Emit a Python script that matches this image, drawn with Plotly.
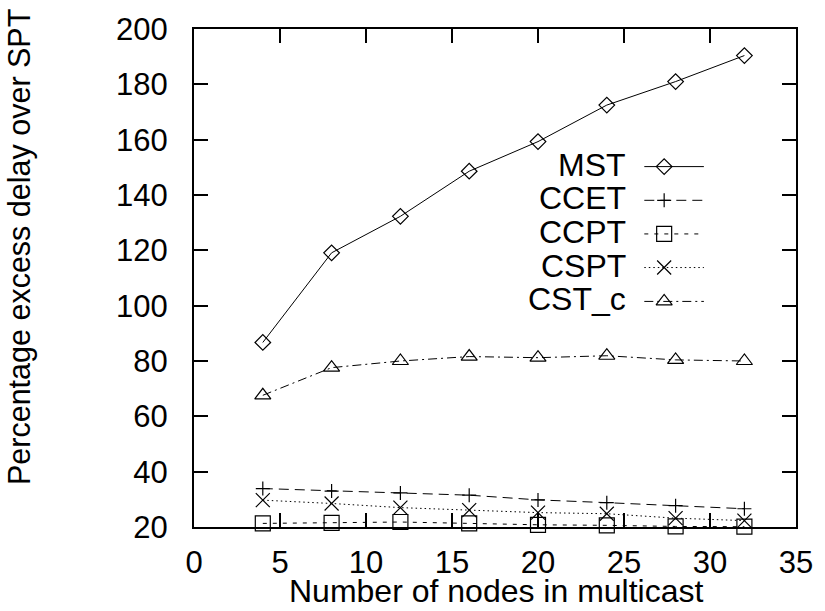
import plotly.graph_objects as go

# ---- data ----
nodes = [4, 8, 12, 16, 20, 24, 28, 32]
mst = [86.7, 119.1, 132.3, 148.6, 159.3, 172.5, 181.0, 190.4]
ccet = [33.9, 33.0, 32.3, 31.5, 29.8, 28.8, 27.7, 26.6]
ccpt = [21.3, 21.5, 21.8, 21.3, 20.8, 20.6, 20.2, 20.1]
cspt = [29.7, 28.5, 27.0, 26.1, 25.2, 24.8, 23.2, 22.3]
cst_c = [67.6, 77.6, 80.0, 81.6, 81.2, 81.9, 80.4, 80.0]

series_names = ["MST", "CCET", "CCPT", "CSPT", "CST_c"]
series_values = [mst, ccet, ccpt, cspt, cst_c]
x_ticks = [0, 5, 10, 15, 20, 25, 30, 35]
y_ticks = [20, 40, 60, 80, 100, 120, 140, 160, 180, 200]

# ---- styles ----
styles = [
    dict(dash="solid", symbol="diamond-open", size=12),
    dict(dash="10px,6px", symbol="cross-thin-open", size=10),
    dict(dash="4px,6px", symbol="square-open", size=15),
    dict(dash="1.5px,3px", symbol="x-thin-open", size=14),
    dict(dash="9px,4px,2px,4px", symbol="triangle-up-open", size=14),
]

FONT = "Liberation Sans, Arial, Helvetica, sans-serif"
FS_TICK = 31
FS_LEG = 32

fig = go.Figure()

for name, vals, st in zip(series_names, series_values, styles):
    fig.add_trace(go.Scatter(
        x=nodes, y=vals, name=name, mode="lines+markers",
        line=dict(color="black", width=1, dash=st["dash"]),
        marker=dict(symbol=st["symbol"], size=st["size"], color="black",
                    line=dict(color="black", width=1.2)),
        cliponaxis=False, showlegend=False,
    ))

# ---- manual gnuplot-like legend (on an overlay 0..1 axis) ----
leg_y = [0.7237, 0.656, 0.5885, 0.521, 0.453]
annotations = []
for name, st, yy in zip(series_names, styles, leg_y):
    fig.add_trace(go.Scatter(
        x=[0.748, 0.847], y=[yy, yy], mode="lines",
        line=dict(color="black", width=1, dash=st["dash"]),
        xaxis="x2", yaxis="y2", showlegend=False, hoverinfo="skip",
    ))
    fig.add_trace(go.Scatter(
        x=[0.781], y=[yy], mode="markers",
        marker=dict(symbol=st["symbol"], size=st["size"], color="black",
                    line=dict(color="black", width=1.2)),
        xaxis="x2", yaxis="y2", showlegend=False, hoverinfo="skip",
    ))
    annotations.append(dict(
        x=0.7185, y=yy + 0.004, xref="x2", yref="y2", text=name, showarrow=False,
        xanchor="right", yanchor="middle", borderpad=0,
        font=dict(family=FONT, size=FS_LEG, color="black"),
    ))

annotations.append(dict(
    x=-0.29, y=0.563, xref="paper", yref="paper",
    text="Percentage excess delay over SPT", showarrow=False, textangle=-90,
    xanchor="center", yanchor="middle",
    font=dict(family=FONT, size=30.5, color="black"),
))
annotations.append(dict(
    x=0.503, y=-0.128, xref="paper", yref="paper",
    text="Number of nodes in multicast", showarrow=False,
    xanchor="center", yanchor="middle", borderpad=0,
    font=dict(family=FONT, size=32, color="black"),
))

axis_common = dict(
    showline=True, linecolor="black", linewidth=2, mirror="ticks",
    ticks="inside", ticklen=14, tickwidth=1.5, tickcolor="black",
    showgrid=False, zeroline=False,
    tickfont=dict(family=FONT, size=FS_TICK, color="black"),
)

fig.update_layout(
    width=825, height=611,
    margin=dict(l=194, r=24, t=24, b=84),
    paper_bgcolor="white", plot_bgcolor="white",
    showlegend=False,
    xaxis=dict(range=[0, 35], tickvals=x_ticks, ticklabelstandoff=7, **axis_common),
    yaxis=dict(range=[20, 200], tickvals=y_ticks, ticklabelstandoff=18, **axis_common),
    xaxis2=dict(range=[0, 1], overlaying="x", anchor="y2", visible=False),
    yaxis2=dict(range=[0, 1], overlaying="y", anchor="x2", visible=False),
    annotations=annotations,
)

fig.write_html("out.html")
